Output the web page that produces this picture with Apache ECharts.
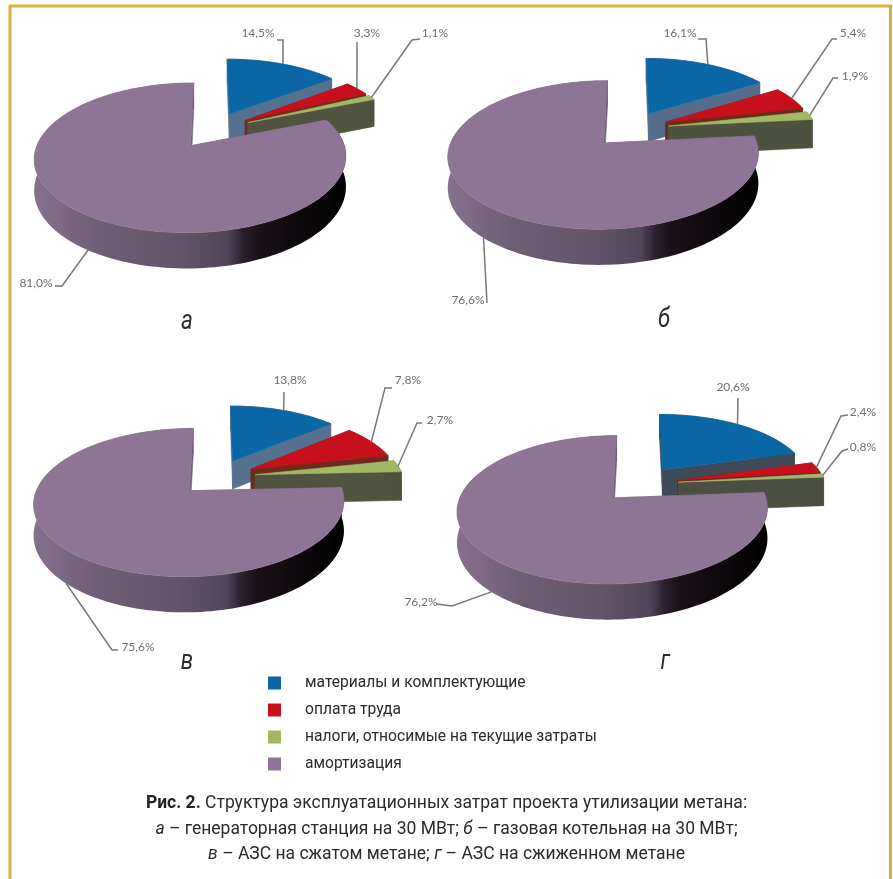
<!DOCTYPE html>
<html>
<head>
<meta charset="utf-8">
<style>html,body{margin:0;padding:0;background:#fff}#chart{width:893px;height:879px}</style>
<script src="https://cdn.jsdelivr.net/npm/echarts@6/dist/echarts.min.js"></script>
</head>
<body>
<div id="chart"></div>
<script>
// Cost shares, percent, one entry per pie (а, б, в, г)
const categories = ['материалы и комплектующие', 'оплата труда', 'налоги, относимые на текущие затраты', 'амортизация'];
const materials = [14.5, 16.1, 13.8, 20.6];
const labour = [3.3, 5.4, 7.8, 2.4];
const taxes = [1.1, 1.9, 2.7, 0.8];
const depreciation = [81.0, 76.6, 75.6, 76.2];
const pieLetters = ['а', 'б', 'в', 'г'];

const shares = [materials, labour, taxes, depreciation];
const topColors = ['#0b66a6', '#c7101c', '#a4b763', '#8e7596'];

// Plane of each pie on the page and the perspective of the tilted view
const pieOrigins = [[213, 130], [630.5, 129], [217, 477], [640, 484]];
const RX = 148.5, RY = 68, PERSP = 0.155, DEPTH = 29;
const EXPLODE_U = 0.26, EXPLODE_V = 0.27;
const letterPos = [[187, 322], [664, 320], [187, 662], [665, 662]];

// Cut-face colours of each slice, per pie
const cutColors = [
  ['#56708f', '#6d2b20', '#4f5340', '#6f5f76'],
  ['#556c8c', '#6d2b20', '#4d5240', '#6f5f76'],
  ['#56708f', '#6d2b20', '#4f5340', '#6f5f76'],
  ['#3e4a58', '#5b2a22', '#4a4f42', '#6f5f76']
];

// Leader layout: label centre, start of the line at the label, elbow
const leaders = [
  [[[258, 33], [277, 40], [283, 40]], [[367, 33], [357, 42], [357, 42]], [[435, 33], [420, 39], [412, 40]], [[36, 283], [55, 286], [62, 286]]],
  [[[680, 33], [698, 39], [706, 39]], [[853, 33], [837, 39], [832, 39]], [[855, 76], [838, 78], [833, 78]], [[468, 300], [487, 303], [487, 303]]],
  [[[290, 380], [284, 392], [284, 392]], [[408, 380], [392, 388], [385, 388]], [[440, 420], [422, 423], [417, 423]], [[138, 647], [118, 650], [112, 650]]],
  [[[733, 387], [738, 398], [738, 398]], [[863, 412], [848, 415], [841, 416]], [[863, 447], [848, 449], [842, 451]], [[421, 602], [437, 604], [452, 606]]]
];

function project(pie, u, v, lift) {
  const s = 1 / (1 - PERSP * v);
  const o = pieOrigins[pie];
  return [o[0] + RX * u * s, o[1] + RY * v * s + (lift || 0) * s];
}

function sliceElements(pie, cat) {
  let startShare = 0;
  for (let c = 0; c < cat; c++) startShare += shares[c][pie];
  const value = shares[cat][pie];
  const toRad = (share) => share * Math.PI * 2 / 100;
  const a0 = toRad(startShare);
  // the last slice closes the circle at twelve o'clock
  const a1 = cat === 3 ? Math.PI * 2 : toRad(startShare + value);
  const mid = (a0 + a1) / 2;
  const cu = EXPLODE_U * Math.sin(mid), cv = -EXPLODE_V * Math.cos(mid);

  const at = (angle, lift) => project(pie, cu + Math.sin(angle), cv - Math.cos(angle), lift);
  const apex = project(pie, cu, cv, 0), apexLow = project(pie, cu, cv, DEPTH);
  const arc = [], arcLow = [];
  const steps = Math.max(4, Math.ceil((a1 - a0) / 0.03));
  for (let i = 0; i <= steps; i++) {
    const a = a0 + (a1 - a0) * i / steps;
    arc.push(at(a, 0));
    arcLow.push(at(a, DEPTH));
  }
  const poly = (points, fill) => ({
    type: 'polygon', silent: true, shape: { points },
    style: { fill, stroke: typeof fill === 'string' ? fill : null, lineWidth: 0.6 }
  });
  const rimFill = cat === 3
    ? new echarts.graphic.LinearGradient(0, 0, 1, 0, [
        { offset: 0, color: '#85708d' },
        { offset: 0.2, color: '#6f5f76' },
        { offset: 0.45, color: '#63556a' },
        { offset: 0.62, color: '#52475a' },
        { offset: 0.67, color: '#2a1f2c' },
        { offset: 0.72, color: '#1a1118' },
        { offset: 1, color: '#000000' }
      ])
    : cutColors[pie][cat];
  const wallFill = cutColors[pie][cat];

  const children = [
    poly([apex, arc[0], arcLow[0], apexLow], wallFill),
    poly([apex, arc[arc.length - 1], arcLow[arcLow.length - 1], apexLow], wallFill),
    poly(arc.concat(arcLow.slice().reverse()), rimFill),
    poly([apex].concat(arc), topColors[cat])
  ];

  // Leader from the label to the slice rim; front slices meet the lower rim
  const leader = leaders[pie][cat];
  const rimPoint = at(mid, cat === 3 ? DEPTH : 0);
  children.push({
    type: 'polyline', silent: true,
    shape: { points: [leader[1], leader[2], rimPoint] },
    style: { fill: null, stroke: '#77787a', lineWidth: 1.5 }
  });
  children.push({
    type: 'text', silent: true,
    style: {
      x: leader[0][0], y: leader[0][1], text: value.toFixed(1).replace('.', ',') + '%',
      font: '12px Lato', fill: '#6e6e6e', align: 'center', verticalAlign: 'middle'
    }
  });
  return children;
}

const chart = echarts.init(document.getElementById('chart'), null, { renderer: 'canvas' });
const series = categories.map((name, cat) => ({
  type: 'custom',
  name,
  coordinateSystem: 'none',
  silent: true,
  animation: false,
  itemStyle: { color: topColors[cat] },
  data: shares[cat].map((v, pie) => [pie, v]),
  renderItem: (params, api) => ({ type: 'group', children: sliceElements(api.value(0), cat) })
}));

const captionFont = { fontFamily: 'Roboto', fontSize: 17.5, color: '#2b2b2b', lineHeight: 25.5 };
chart.setOption({
  animation: false,
  backgroundColor: '#fff',
  legend: {
    orient: 'vertical', left: 268, top: 674, padding: 0,
    itemWidth: 13, itemHeight: 13, itemGap: 9, icon: 'rect',
    selectedMode: false,
    data: categories,
    textStyle: { fontFamily: 'Roboto', fontSize: 15.6, lineHeight: 18, color: '#2b2b2b', padding: [0, 0, 0, 19] }
  },
  title: {
    left: 'center', top: 791, padding: 0,
    text: '{b|Рис. 2.} Структура эксплуатационных затрат проекта утилизации метана:\n{i|а} – генераторная станция на 30 МВт; {i|б} – газовая котельная на 30 МВт;\n{i|в} – АЗС на сжатом метане; {i|г} – АЗС на сжиженном метане',
    textStyle: Object.assign({}, captionFont, {
      fontWeight: 'normal', align: 'center',
      rich: {
        b: Object.assign({}, captionFont, { fontWeight: 'bold', color: '#222' }),
        i: Object.assign({}, captionFont, { fontStyle: 'italic' })
      }
    })
  },
  graphic: [
    // gold frame, open at the bottom edge of the page
    { type: 'polyline', silent: true, shape: { points: [[10, 879], [10, 6], [890.5, 6], [890.5, 879]] },
      style: { fill: null, stroke: '#d9b23c', lineWidth: 3 } }
  ].concat(pieLetters.map((t, i) => ({
    type: 'text', silent: true, x: letterPos[i][0], y: letterPos[i][1], scaleX: 0.8,
    style: { text: t, font: 'italic 28px Roboto', fill: '#2b2b2b', align: 'center', verticalAlign: 'middle' }
  }))),
  series
});
</script>
</body>
</html>
